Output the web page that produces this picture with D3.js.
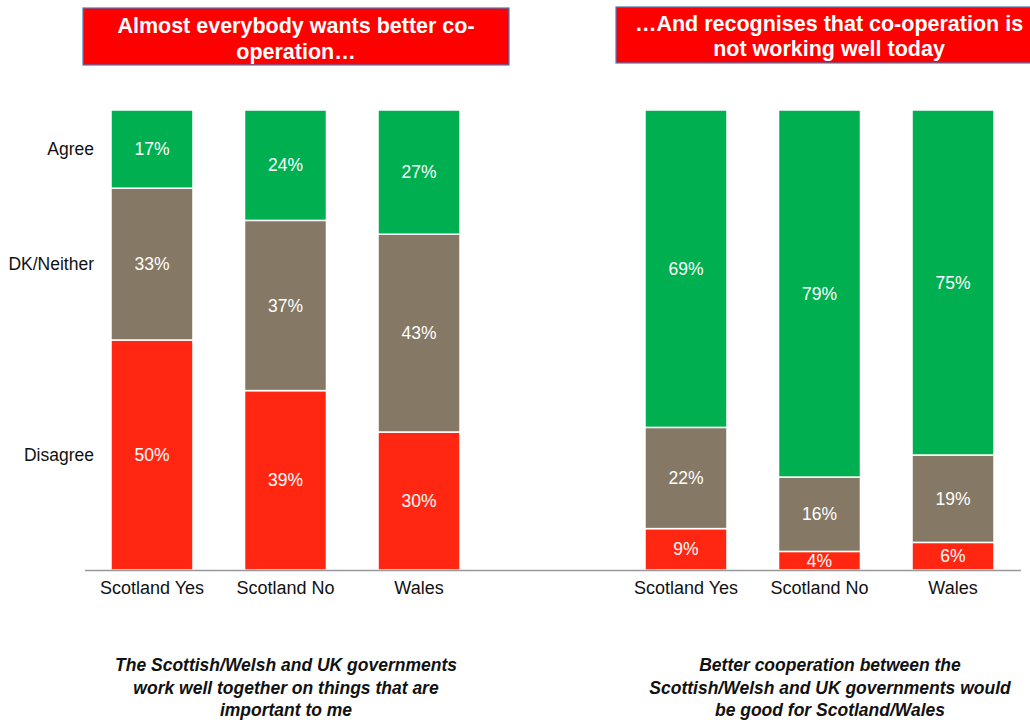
<!DOCTYPE html>
<html lang="en">
<head>
  <meta charset="UTF-8">
  <title>Co-operation between governments</title>
  <script src="https://d3js.org/d3.v7.min.js"></script>
  <style>
    body { margin: 0; background: #fff; font-family: "Liberation Sans", Arial, sans-serif; }
    svg { display: block; }
    .seg { stroke: #fff; stroke-width: 1.5px; }
    .val { fill: #fff; font-size: 17.5px; text-anchor: middle; dominant-baseline: central; }
    .cat { fill: #111; font-size: 18px; text-anchor: middle; dominant-baseline: central; }
    .rowlab { fill: #111; font-size: 17.5px; text-anchor: end; dominant-baseline: central; }
    .title { fill: #fff; font-size: 21.5px; font-weight: bold; text-anchor: middle; dominant-baseline: central; }
    .caption { fill: #111; font-size: 17.5px; font-weight: bold; font-style: italic; text-anchor: middle; dominant-baseline: central; }
  </style>
</head>
<body>
  <svg id="chart" width="1030" height="720"></svg>
  <script>
    // data
    const groups = ['Scotland Yes', 'Scotland No', 'Wales'];
    const answers = ['Disagree', 'DK/Neither', 'Agree'];

    // "work well together on things that are important to me"
    const leftDisagree = [50, 39, 30];
    const leftNeither  = [33, 37, 43];
    const leftAgree    = [17, 24, 27];

    // "better cooperation would be good for Scotland/Wales"
    const rightDisagree = [9, 4, 6];
    const rightNeither  = [22, 16, 19];
    const rightAgree    = [69, 79, 75];

    const leftTitle = ['Almost everybody wants better co-', 'operation\u2026'];
    const rightTitle = ['\u2026And recognises that co-operation is', 'not working well today'];
    const leftCaption = ['The Scottish/Welsh and UK governments', 'work well together on things that are', 'important to me'];
    const rightCaption = ['Better cooperation between the', 'Scottish/Welsh and UK governments would', 'be good for Scotland/Wales'];

    const colors = { 'Disagree': '#ff2712', 'DK/Neither': '#857965', 'Agree': '#00b050' };

    const svg = d3.select('#chart');
    const baseY = 570, topY = 110;
    const y = d3.scaleLinear().domain([0, 1]).range([baseY, topY]);

    function rows(dis, nei, agr) {
      return groups.map((g, i) => ({ group: g, 'Disagree': dis[i], 'DK/Neither': nei[i], 'Agree': agr[i] }));
    }

    const stack = d3.stack().keys(answers).offset(d3.stackOffsetExpand);

    function drawPanel(data, range) {
      const x = d3.scaleBand().domain(groups).range(range).paddingInner(0.386).paddingOuter(0.2);
      const series = stack(data);
      const g = svg.append('g');

      series.forEach(s => {
        const layer = g.append('g');
        layer.selectAll('rect').data(s).join('rect')
          .attr('class', 'seg')
          .attr('x', d => x(d.data.group))
          .attr('width', x.bandwidth())
          .attr('y', d => y(d[1]))
          .attr('height', d => y(d[0]) - y(d[1]))
          .attr('fill', colors[s.key]);
        layer.selectAll('text').data(s).join('text')
          .attr('class', 'val')
          .attr('x', d => x(d.data.group) + x.bandwidth() / 2)
          .attr('y', d => (y(d[0]) + y(d[1])) / 2)
          .text(d => d.data[s.key] + '%');
      });

      g.selectAll('text.cat').data(groups).join('text')
        .attr('class', 'cat')
        .attr('x', d => x(d) + x.bandwidth() / 2)
        .attr('y', 588)
        .text(d => d);

      return { x, series };
    }

    const left = drawPanel(rows(leftDisagree, leftNeither, leftAgree), [84.3, 486.7]);
    drawPanel(rows(rightDisagree, rightNeither, rightAgree), [618.3, 1020.7]);

    // row labels aligned with first left bar's segments
    svg.append('g').selectAll('text').data(left.series).join('text')
      .attr('class', 'rowlab')
      .attr('x', 94)
      .attr('y', s => (y(s[0][0]) + y(s[0][1])) / 2)
      .text(s => s.key);

    // baseline
    svg.append('line')
      .attr('x1', 85).attr('x2', 1021)
      .attr('y1', baseY + 0.5).attr('y2', baseY + 0.5)
      .attr('stroke', '#999').attr('stroke-width', 1.5);

    // title boxes
    function titleBox(x0, x1, y0, y1, lines, lineYs, cx) {
      svg.append('rect')
        .attr('x', x0).attr('y', y0)
        .attr('width', x1 - x0).attr('height', y1 - y0)
        .attr('fill', '#ff0000').attr('stroke', '#3f7fc4').attr('stroke-width', 1.2);
      svg.append('g').selectAll('text').data(lines).join('text')
        .attr('class', 'title')
        .attr('x', cx)
        .attr('y', (d, i) => lineYs[i])
        .text(d => d);
    }
    titleBox(83, 509, 8, 65, leftTitle, [26, 52], 296);
    titleBox(616, 1040, 7, 63, rightTitle, [24, 49], 829);

    // captions
    function caption(cx, lines) {
      svg.append('g').selectAll('text').data(lines).join('text')
        .attr('class', 'caption')
        .attr('x', cx)
        .attr('y', (d, i) => 665 + i * 22.5)
        .text(d => d);
    }
    caption(286, leftCaption);
    caption(830, rightCaption);
  </script>
</body>
</html>
